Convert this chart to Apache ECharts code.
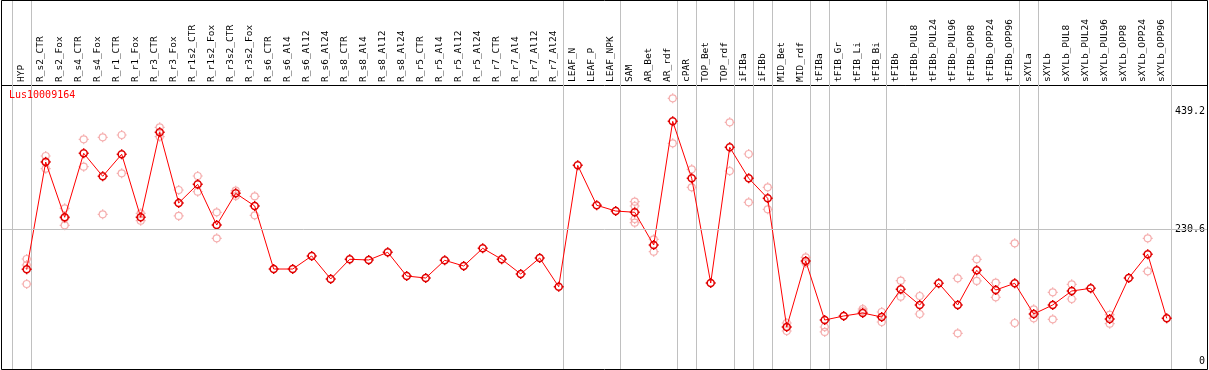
<!DOCTYPE html>
<html><head><meta charset="utf-8">
<script src="https://cdn.jsdelivr.net/npm/echarts@6/dist/echarts.min.js"></script>
<style>html,body{margin:0;padding:0;background:#fff}#c{width:1209px;height:370px}</style>
</head><body><div id="c"></div>
<script>
const geneName = 'Lus10009164';
const categories = ['HYP','R_s2_CTR','R_s2_Fox','R_s4_CTR','R_s4_Fox','R_r1_CTR','R_r1_Fox','R_r3_CTR','R_r3_Fox','R_r1s2_CTR','R_r1s2_Fox','R_r3s2_CTR','R_r3s2_Fox',
  'R_s6_CTR','R_s6_Al4','R_s6_Al12','R_s6_Al24','R_s8_CTR','R_s8_Al4','R_s8_Al12','R_s8_Al24','R_r5_CTR','R_r5_Al4','R_r5_Al12','R_r5_Al24','R_r7_CTR','R_r7_Al4','R_r7_Al12','R_r7_Al24',
  'LEAF_N','LEAF_P','LEAF_NPK','SAM','AR_Bet','AR_rdf','cPAR','TOP_Bet','TOP_rdf','iFIBa','iFIBb','MID_Bet','MID_rdf','tFIBa','tFIB_Gr','tFIB_Li','tFIB_Bi',
  'tFIBb','tFIBb_PUL8','tFIBb_PUL24','tFIBb_PUL96','tFIBb_OPP8','tFIBb_OPP24','tFIBb_OPP96','sXYLa','sXYLb','sXYLb_PUL8','sXYLb_PUL24','sXYLb_PUL96','sXYLb_OPP8','sXYLb_OPP24','sXYLb_OPP96'];
const means = [161.1,349.6,252.5,364.9,324.5,363.2,252.5,401.8,277.6,310.4,238.9,294.6,272.3,
  161.6,161.6,184.5,144.1,178.7,177.5,191.0,149.3,145.8,176.9,166.9,198.0,178.7,152.9,181.0,130.5,
  343.8,273.6,263.5,261.3,203.8,421.1,321.0,137.0,375.5,321.0,285.9,59.7,175.7,72.0,79.1,84.3,77.3,
  126.0,98.4,136.5,98.4,159.4,124.7,136.5,82.6,98.4,123.0,127.7,73.8,145.8,187.5,75.0];
const replicates = [[179.2,168.7,135.3],[360.2,350.7,337.9],[268.3,250.8,238.4],[389.5,341.4],[393.0,257.7],[397.1,329.8],[259.5,246.5],[410.6,394.1],[300.4,254.8],[325.0,297.4],[261.2,215.6],[299.2,289.9],[289.4,256.0],
  [],[],[],[],[],[],[],[],[],[],[],[],[],[],[],[],
  [],[],[],[279.9,272.3,249.5,243.0],[213.8,192.0],[461.5,382.5],[336.8,305.2],[],[419.4,333.8],[363.7,278.8],[305.2,266.5],[66.8,52.7],[182.2,172.2],[59.7,51.0],[],[91.4,87.8],[86.1,68.5],
  [141.1,113.0],[114.2,82.6],[],[145.3,48.7],[178.7,140.6],[137.6,111.9],[206.8,66.8],[90.8,75.0],[120.7,73.3],[134.8,108.9],[],[81.3,65.5],[],[215.6,157.6],[]];
const yTickValues = [0, 230.6, 439.2];
const gridLineValues = [230.6];
const groupEnds = ['HYP','R_r7_Al24','LEAF_NPK','AR_rdf','cPAR','TOP_rdf','iFIBa','iFIBb','MID_rdf','tFIBa','tFIB_Bi','tFIBb_OPP96','sXYLa','sXYLb_OPP96'];

const separatorIdx = [-1].concat(groupEnds.map(n => categories.indexOf(n)));
const repData = [];
replicates.forEach((arr, i) => arr.forEach(v => repData.push([i, v])));
const meanData = means.map((v, i) => [i, v]);
const marker = 'path://M10,3C13.866,3 17,6.134 17,10C17,13.866 13.866,17 10,17C6.134,17 3,13.866 3,10C3,6.134 6.134,3 10,3ZM10,0L10,3M10,17L10,20M0,10L3,10M17,10L20,10';
const monoFont = 'DejaVu Sans Mono';

const chart = echarts.init(document.getElementById('c'), null, {renderer: 'canvas'});
chart.setOption({
  animation: false,
  backgroundColor: '#fff',
  title: {text: geneName, left: 9, top: 90, padding: 0,
    textStyle: {color: '#ff0000', fontSize: 10, fontWeight: 'normal', fontFamily: monoFont}},
  grid: {left: 2, right: 2, top: 85, bottom: 1, containLabel: false},
  xAxis: {type: 'value', position: 'top', min: -1.3, max: 62.12,
    axisLine: {show: true, onZero: false, lineStyle: {color: '#000', width: 1}},
    axisTick: {show: false}, splitLine: {show: false},
    axisLabel: {customValues: categories.map((_, i) => i), formatter: v => categories[v] || '',
      rotate: -90, margin: 3, fontSize: 9.5, fontFamily: monoFont, color: '#000', verticalAlign: 'bottom'}},
  yAxis: {type: 'value', position: 'right', min: -14.05, max: 484.9,
    axisLine: {show: false}, axisTick: {show: false}, splitLine: {show: false},
    axisLabel: {customValues: yTickValues, inside: true, margin: 2, formatter: v => String(v),
      fontSize: 10, fontFamily: monoFont, color: '#000'}},
  graphic: [{type: 'rect', z: 100, silent: true, shape: {x: 1.5, y: 0.5, width: 1206, height: 369},
    style: {fill: null, stroke: '#000', lineWidth: 1}}],
  series: [
    {type: 'custom', z: 1, silent: true, clip: false, data: separatorIdx.map(i => [i, 0]),
      encode: {x: 0, y: 1},
      renderItem: (params, api) => {
        const x = Math.round(api.coord([api.value(0), 0])[0] + 4) + 0.5;
        const cs = params.coordSys;
        return {type: 'line', shape: {x1: x, y1: 0, x2: x, y2: cs.y + cs.height},
          style: {stroke: '#c0c0c0', lineWidth: 1}};
      }},
    {type: 'scatter', z: 2, silent: true, data: repData, symbol: marker, symbolSize: 10,
      itemStyle: {color: 'rgba(0,0,0,0)', borderColor: '#f29a9a', borderWidth: 1.2}},
    {type: 'line', z: 3, silent: true, data: meanData, symbol: marker, symbolSize: 10, showAllSymbol: true,
      lineStyle: {color: '#ff0000', width: 1},
      itemStyle: {color: 'rgba(0,0,0,0)', borderColor: '#e00000', borderWidth: 1.5},
      markLine: {silent: true, symbol: ['none', 'none'], label: {show: false},
        lineStyle: {color: '#c0c0c0', type: 'solid', width: 1},
        data: gridLineValues.map(v => ({yAxis: v}))}}
  ]
});
</script></body></html>
